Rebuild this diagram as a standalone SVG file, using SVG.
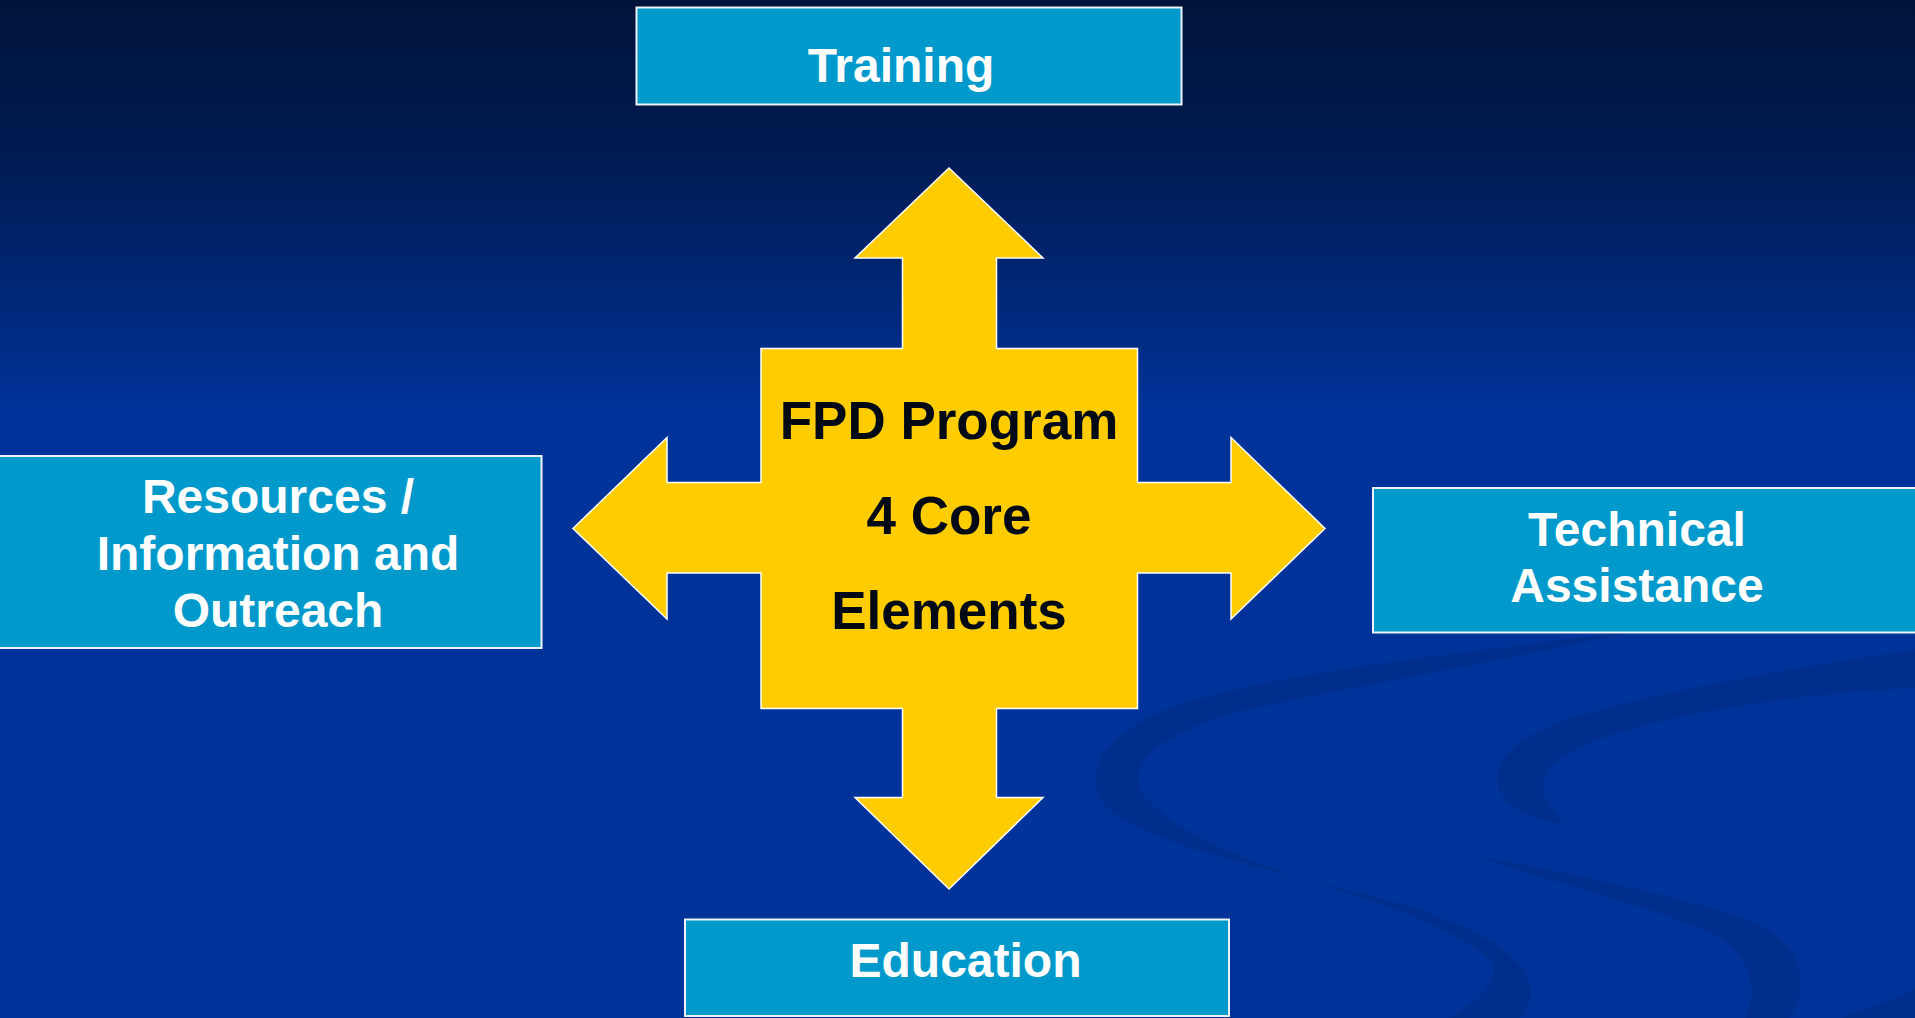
<svg xmlns="http://www.w3.org/2000/svg" width="1915" height="1018" viewBox="0 0 1915 1018">
  <defs>
    <linearGradient id="bg" x1="0" y1="0" x2="0" y2="1018" gradientUnits="userSpaceOnUse">
      <stop offset="0" stop-color="#00133a"/>
      <stop offset="0.15" stop-color="#001b52"/>
      <stop offset="0.3" stop-color="#00287a"/>
      <stop offset="0.4" stop-color="#003399"/>
      <stop offset="1" stop-color="#003399"/>
    </linearGradient>
    <style>
      .box { fill: #0099cc; stroke: #eef3fb; stroke-width: 2; }
      .lbl { font-family: "Liberation Sans", Arial, sans-serif; font-weight: bold; font-size: 48px; fill: #ffffff; text-anchor: middle; }
      .core { fill: #ffcc00; stroke: #ffffff; stroke-width: 1.5; stroke-linejoin: miter; }
      .coretxt { font-family: "Liberation Sans", Arial, sans-serif; font-weight: bold; font-size: 53px; fill: #000814; text-anchor: middle; }
      .swirl { fill: #002d8a; opacity: 0.75; }
    </style>
  </defs>

  <rect x="0" y="0" width="1915" height="1018" fill="url(#bg)"/>

  <g id="background-swirls">
    <path class="swirl" d="M 1640,630 C 1450,655 1250,675 1160,712 C 1090,742 1078,790 1118,816 C 1170,850 1280,872 1394,902 C 1462,922 1512,946 1527,976 C 1536,995 1528,1010 1520,1018 L 1449,1018 C 1480,1000 1496,982 1494,966 C 1482,942 1402,908 1300,878 C 1222,853 1162,822 1142,792 C 1126,762 1160,736 1230,714 C 1320,692 1450,672 1640,630 Z"/>
    <path class="swirl" d="M 1915,650 C 1790,668 1640,695 1560,722 C 1505,742 1490,770 1500,792 C 1510,810 1535,820 1565,824 C 1550,810 1542,795 1543,785 C 1545,760 1580,740 1666,720 C 1750,702 1830,692 1915,688 Z"/>
    <path class="swirl" d="M 1476,857 C 1560,870 1700,900 1760,925 C 1800,945 1812,985 1790,1018 L 1745,1018 C 1758,990 1752,960 1720,938 C 1680,915 1580,890 1476,857 Z"/>
    <path class="swirl" d="M 1841,1018 L 1915,990 L 1915,1018 Z"/>
  </g>

  <g id="connectors"></g>

  <g id="core">
    <polygon class="core" points="949,168 1043,258 996.5,258 996.5,348.5 1137.5,348.5 1137.5,482.5 1231,482.5 1231,437.5 1325,528.5 1231,619 1231,573 1137.5,573 1137.5,708.5 996.5,708.5 996.5,797.5 1043,797.5 949,889 855,797.5 902.5,797.5 902.5,708.5 761,708.5 761,573 667,573 667,619 573,528.5 667,437.5 667,482.5 761,482.5 761,348.5 902.5,348.5 902.5,258 855,258"/>
    <text class="coretxt" x="949" y="439">FPD Program</text>
    <text class="coretxt" x="949" y="534">4 Core</text>
    <text class="coretxt" x="949" y="629">Elements</text>
  </g>

  <g id="training">
    <rect class="box" x="636.5" y="7.5" width="545" height="97"/>
    <text class="lbl" x="901" y="82">Training</text>
  </g>

  <g id="resources">
    <rect class="box" x="-5" y="456" width="546.5" height="192"/>
    <text class="lbl" x="278" y="513">Resources /</text>
    <text class="lbl" x="278" y="570">Information and</text>
    <text class="lbl" x="278" y="627">Outreach</text>
  </g>

  <g id="technical">
    <rect class="box" x="1373" y="488" width="560" height="144.5"/>
    <text class="lbl" x="1637" y="546">Technical</text>
    <text class="lbl" x="1637" y="602">Assistance</text>
  </g>

  <g id="education">
    <rect class="box" x="685" y="919.5" width="544" height="96.5"/>
    <text class="lbl" x="965.5" y="977">Education</text>
  </g>
</svg>
